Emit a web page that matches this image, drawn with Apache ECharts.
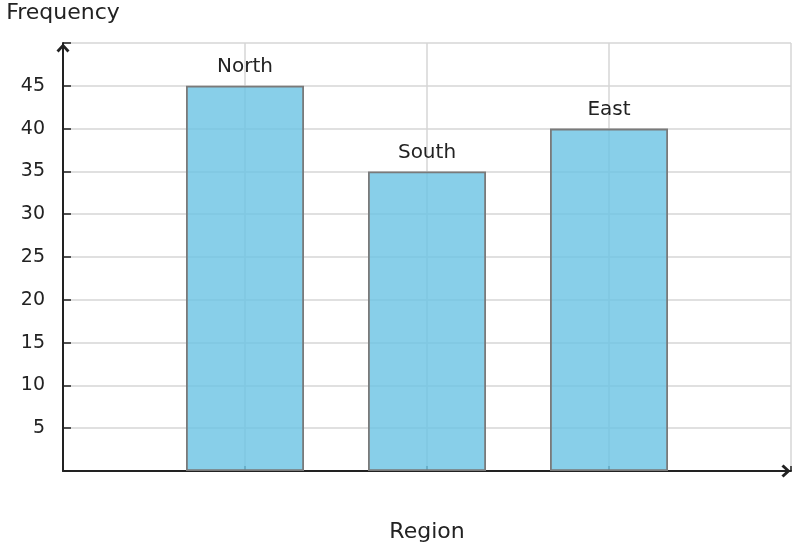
<!DOCTYPE html>
<html><head><meta charset="utf-8">
<script src="https://cdn.jsdelivr.net/npm/echarts@6/dist/echarts.min.js"></script>
<style>html,body{margin:0;padding:0;background:#fff;overflow:hidden}#c{width:796px;height:548px}</style>
</head><body><div id="c"></div>
<script>
const categories = ['', 'North', 'South', 'East', ''];
const frequency = [null, 45, 35, 40, null];
const yTicks = [5, 10, 15, 20, 25, 30, 35, 40, 45];

const chevron = 'path://M5,0 L10,5.4 L8.4,7 L5,3.2 L1.6,7 L0,5.4 Z';
const font = 'DejaVu Sans';
const chart = echarts.init(document.getElementById('c'));
chart.setOption({
  animation: false,
  grid: { left: 63, right: 5, top: 43, bottom: 77, containLabel: false, outerBoundsMode: 'none' },
  xAxis: {
    type: 'category', data: categories, boundaryGap: false,
    name: 'Region', nameLocation: 'middle', nameGap: 50,
    nameTextStyle: { fontFamily: font, fontSize: 22, color: '#222' },
    axisLine: { lineStyle: { color: '#222', width: 2 }, symbol: ['none', chevron], symbolSize: [13, 10], symbolOffset: [0, -5] },
    axisTick: { inside: true, length: 5, lineStyle: { color: '#222', width: 1.5 } },
    axisLabel: { show: false },
    splitLine: { show: true, lineStyle: { color: '#d6d6d6', width: 1.5 } }
  },
  yAxis: {
    type: 'value', min: 0, max: 50, interval: 5,
    name: 'Frequency', nameLocation: 'end', nameGap: 19,
    nameTextStyle: { fontFamily: font, fontSize: 22, color: '#222', align: 'center' },
    axisLine: { show: true, lineStyle: { color: '#222', width: 2 }, symbol: ['none', chevron], symbolSize: [13, 10], symbolOffset: [0, -5] },
    axisTick: { show: true, inside: true, length: 8, lineStyle: { color: '#222', width: 1.5 } },
    axisLabel: { fontFamily: font, fontSize: 19, color: '#222', margin: 18,
      formatter: v => yTicks.includes(v) ? String(v) : '' },
    splitLine: { lineStyle: { color: '#d6d6d6', width: 1.5 } }
  },
  series: [{
    type: 'bar', data: frequency, barWidth: 118,
    itemStyle: { color: 'rgba(110,196,228,0.82)', borderColor: '#7a7a7a', borderWidth: 1.8 },
    label: { show: true, position: 'top', distance: 9, fontFamily: font, fontSize: 20, color: '#222',
      formatter: p => categories[p.dataIndex] }
  }]
});
</script></body></html>
